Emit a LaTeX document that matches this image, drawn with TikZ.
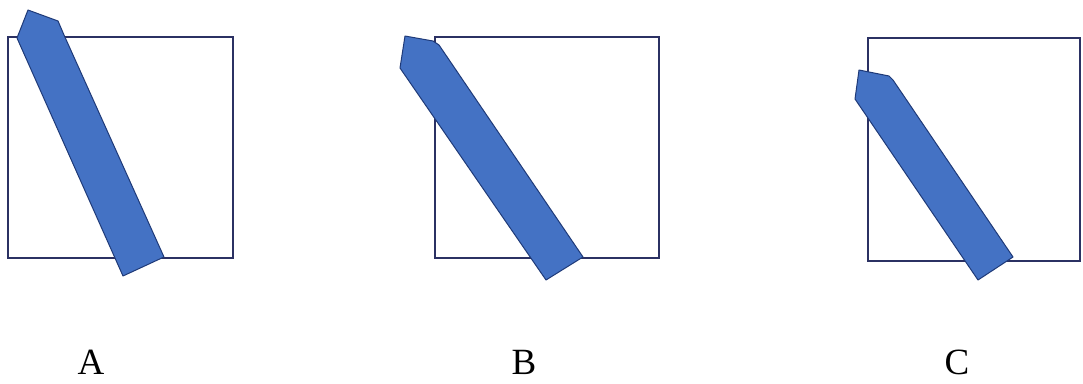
\documentclass[tikz,border=0pt]{standalone}
\usepackage{fontspec}
\setmainfont{Liberation Serif}
\definecolor{frame}{HTML}{2B3163}
\definecolor{pencil}{HTML}{4472C4}
\definecolor{pencilline}{HTML}{1F3A78}

\begin{document}
\begin{tikzpicture}[x=1pt,y=-1pt,
  square/.style={draw=frame,line width=1.4pt},
  pen/.style={fill=pencil,draw=pencilline,line width=1pt,line join=round},
  tag/.style={font=\fontsize{37}{40}\selectfont,inner sep=0pt}]
  \useasboundingbox (0,0) rectangle (1083,383);
  % case A
  \draw[square] (8,37) rectangle (233,258);
  \filldraw[pen] (28,10) -- (58,21) -- (64,35) -- (164,257) -- (123,276)
                 -- (17,38) -- cycle;
  \node[tag] (labA) at (91,362) {A};
  % case B
  \draw[square] (435,37) rectangle (659,258);
  \filldraw[pen] (405,36) -- (433,41) -- (439,45) -- (583,257) -- (546,280)
                 -- (400,68) -- cycle;
  \node[tag] (labB) at (524,362) {B};
  % case C
  \draw[square] (868,38) rectangle (1080,261);
  \filldraw[pen] (859,70) -- (889,76) -- (893,80) -- (1013,257) -- (978,280)
                 -- (855,99) -- cycle;
  \node[tag] (labC) at (957,362) {C};
\end{tikzpicture}
\end{document}
